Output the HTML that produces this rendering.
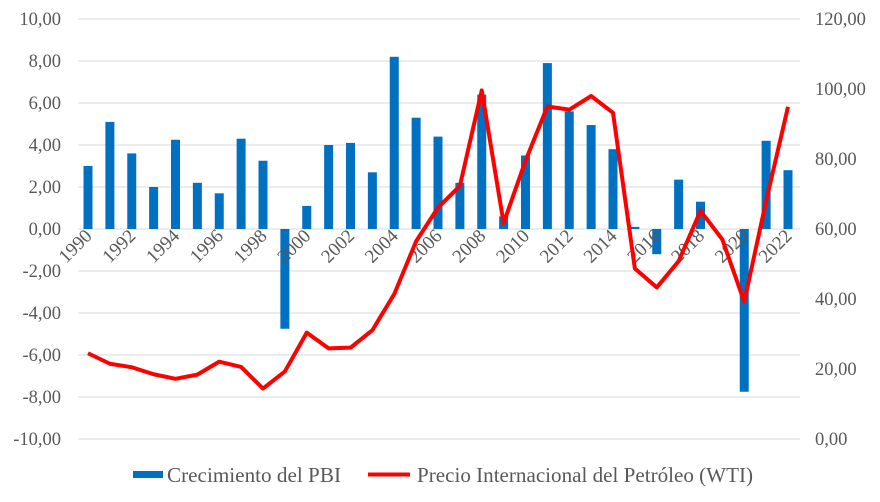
<!DOCTYPE html>
<html><head><meta charset="utf-8"><style>body{margin:0;background:#fff}svg{display:block}</style></head><body>
<svg id="s" width="880" height="502" xmlns="http://www.w3.org/2000/svg" font-family="Liberation Serif, serif" fill="#595959"></svg>
<script>
const s=document.getElementById('s');let h='';
const L=78,R=800,y0=229,ppu=21;
for(let k=0;k<=10;k++){const y=19+42*k;h+=`<line x1="${L}" x2="${R}" y1="${y}" y2="${y}" stroke="#d9d9d9" stroke-width="1"/>`;
const v=(10-2*k).toFixed(2).replace('.',',');h+=`<text x="61" y="${y+6}" font-size="18.5" text-anchor="end">${v}</text>`;}
for(let k=0;k<=6;k++){const y=439-70*k;h+=`<text x="815" y="${y+6}" font-size="18.5">${(20*k).toFixed(2).replace('.',',')}</text>`;}
const g=[3.0,5.1,3.6,2.0,4.25,2.2,1.7,4.3,3.25,-4.75,1.1,4.0,4.1,2.7,8.2,5.3,4.4,2.2,6.4,0.6,3.5,7.9,5.6,4.95,3.8,0.1,-1.2,2.35,1.3,0.0,-7.75,4.2,2.8];
const o=[24.5,21.5,20.5,18.5,17.2,18.4,22.1,20.6,14.4,19.3,30.4,25.9,26.1,31.1,41.4,56.5,66.1,72.3,99.6,61.7,79.5,95,94.1,98,93.2,48.7,43.3,50.8,65.2,57,39.2,68,94.9];
const X=i=>88+i*21.875;
g.forEach((v,i)=>{if(v===0)return;const y=y0-v*ppu;h+=`<rect x="${X(i)-4.5}" y="${Math.min(y,y0)}" width="9" height="${Math.max(Math.abs(v*ppu),0.8)}" fill="#0070c0"/>`;});
for(let i=0;i<33;i+=2){const x=X(i)+5,y=237;h+=`<text x="${x}" y="${y}" font-size="19" text-anchor="end" transform="rotate(-45 ${x} ${y})">${1990+i}</text>`;}
h+=`<polyline fill="none" stroke="#ff0000" stroke-width="4" stroke-linejoin="round" points="${o.map((v,i)=>X(i)+','+(439-v*3.5)).join(' ')}"/>`;
h+=`<rect x="133" y="471" width="30" height="7" fill="#0070c0"/><text x="167" y="482" font-size="21.5" textLength="174" lengthAdjust="spacingAndGlyphs">Crecimiento del PBI</text>`;
h+=`<line x1="368" x2="410" y1="474.5" y2="474.5" stroke="#ff0000" stroke-width="4"/><text x="417" y="482" font-size="21.5" textLength="336" lengthAdjust="spacingAndGlyphs">Precio Internacional del Petróleo (WTI)</text>`;
s.innerHTML=h;
</script>
</body></html>
